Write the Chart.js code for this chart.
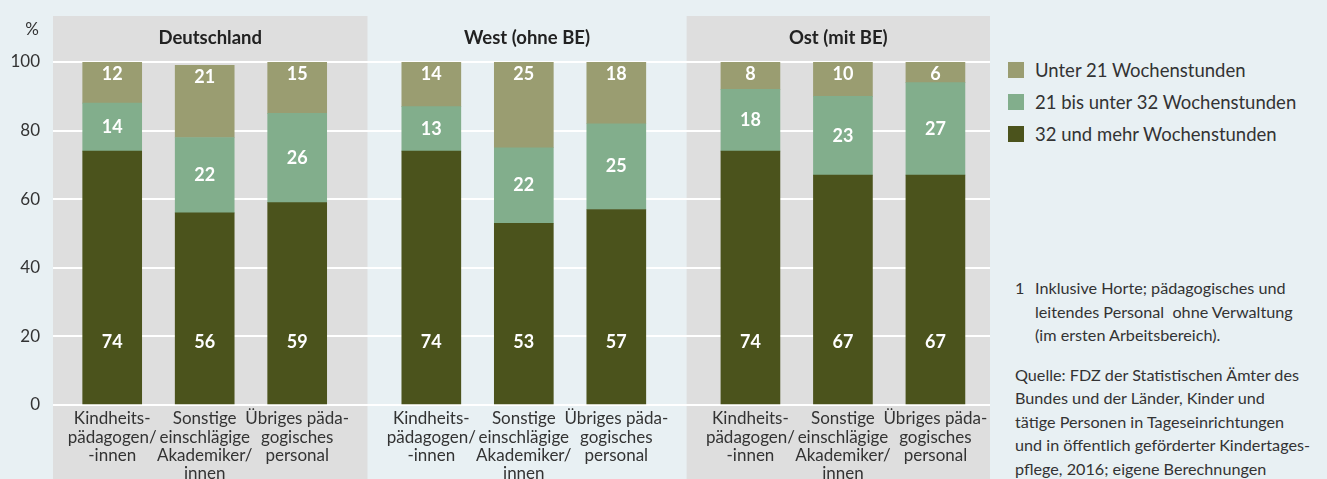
<!DOCTYPE html>
<html lang="de">
<head>
  <meta charset="UTF-8" />
  <title>Wochenstunden pädagogisches Personal</title>
  <script src="https://cdn.jsdelivr.net/npm/chart.js"></script>
  <style>
    html, body { margin: 0; padding: 0; }
    body { width: 1327px; height: 479px; background: #e8f0f3; font-family: Lato, "Noto Sans", sans-serif; color: #333; position: relative; overflow: hidden; }
    #chartBox { position: absolute; left: 0; top: 0; width: 1000px; height: 479px; }
    #legend { position: absolute; left: 1008px; top: 62px; }
    .item { display: flex; align-items: center; height: 16px; margin-bottom: 16px; font-size: 18.5px; white-space: nowrap; }
    .swatch { width: 16px; height: 16px; margin-right: 11px; flex: none; }
    #notes { position: absolute; left: 1015px; top: 276px; font-size: 16.2px; line-height: 23.5px; white-space: nowrap; }
    .foot { display: flex; }
    .foot .num { width: 20px; flex: none; }
    .source { margin-top: 16px; }
  </style>
</head>
<body>
  <div id="chartBox"><canvas id="chart"></canvas></div>
  <div id="legend"></div>
  <div id="notes">
    <div class="foot"><span class="num">1</span><span>Inklusive Horte; pädagogisches und<br>leitendes Personal &nbsp;ohne Verwaltung<br>(im ersten Arbeitsbereich).</span></div>
    <div class="source">Quelle: FDZ der Statistischen Ämter des<br>Bundes und der Länder, Kinder und<br>tätige Personen in Tageseinrichtungen<br>und in öffentlich geförderter Kindertages-<br>pflege, 2016; eigene Berechnungen</div>
  </div>
  <script>
    // data
    const groups = ['Deutschland', 'West (ohne BE)', 'Ost (mit BE)'];
    const categories = [
      ['Kindheits-', 'pädagogen/', '-innen'],
      ['Sonstige', 'einschlägige', 'Akademiker/', 'innen'],
      ['Übriges päda-', 'gogisches', 'personal']
    ];
    const seriesNames = ['32 und mehr Wochenstunden', '21 bis unter 32 Wochenstunden', 'Unter 21 Wochenstunden'];
    const hours32plus = [74, 56, 59, 74, 53, 57, 74, 67, 67];
    const hours21to32 = [14, 22, 26, 13, 22, 25, 18, 23, 27];
    const hoursUnder21 = [12, 21, 15, 14, 25, 18, 8, 10, 6];
    const yTicks = [0, 20, 40, 60, 80, 100];

    // styling
    const colors = ['#4b531c', '#82ae8c', '#9a9d71'];
    const panelGrey = '#dedede';
    const panelFill = [true, false, true];
    const GROUP_STEP = 3.45;
    const PANEL_EDGE = 2.76; // right edge of a panel, measured from its first bar
    const FONT = 'Lato, "Noto Sans", sans-serif';

    const xPos = [];
    groups.forEach((g, gi) => categories.forEach((c, ci) => xPos.push(gi * GROUP_STEP + ci)));
    const seriesValues = [hours32plus, hours21to32, hoursUnder21];

    const datasets = seriesValues.map((vals, si) => ({
      label: seriesNames[si],
      data: vals.map((v, i) => ({ x: xPos[i], y: v })),
      backgroundColor: colors[si],
      borderWidth: 0,
      barThickness: 59
    }));

    const panelPlugin = {
      id: 'panels',
      beforeDraw(chart) {
        const { ctx, chartArea, scales } = chart;
        const x = scales.x;
        ctx.save();
        groups.forEach((g, gi) => {
          const left = gi === 0 ? chartArea.left : x.getPixelForValue((gi - 1) * GROUP_STEP + PANEL_EDGE);
          const right = gi === groups.length - 1 ? chartArea.right : x.getPixelForValue(gi * GROUP_STEP + PANEL_EDGE);
          if (panelFill[gi]) {
            ctx.fillStyle = panelGrey;
            ctx.fillRect(left, 16, right - left, chart.height - 16);
          }
          ctx.fillStyle = '#222';
          ctx.font = 'bold 18.5px ' + FONT;
          ctx.textAlign = 'center';
          ctx.textBaseline = 'middle';
          ctx.fillText(g, (left + right) / 2, 38);
        });
        ctx.fillStyle = '#333';
        ctx.font = '17px ' + FONT;
        ctx.fillText('%', 32, 30);
        ctx.restore();
      }
    };

    const labelPlugin = {
      id: 'barLabels',
      afterDatasetsDraw(chart) {
        const { ctx, chartArea } = chart;
        ctx.save();
        ctx.fillStyle = '#fff';
        ctx.font = 'bold 18px ' + FONT;
        ctx.textAlign = 'center';
        ctx.textBaseline = 'middle';
        chart.data.datasets.forEach((ds, si) => {
          chart.getDatasetMeta(si).data.forEach((bar, i) => {
            const top = Math.max(bar.y, chartArea.top);
            let y;
            if (si === 0) y = bar.base - 62;
            else if (si === 2) y = top + 12;
            else y = (top + bar.base) / 2;
            ctx.fillText(String(seriesValues[si][i]), bar.x, y);
          });
        });
        ctx.restore();
      }
    };

    new Chart(document.getElementById('chart'), {
      type: 'bar',
      data: { datasets },
      options: {
        responsive: true,
        maintainAspectRatio: false,
        animation: false,
        layout: { padding: { top: 62, right: 10, left: 0, bottom: 0 } },
        plugins: { legend: { display: false }, tooltip: { enabled: false } },
        scales: {
          x: {
            type: 'linear',
            stacked: true,
            offset: false,
            min: -0.64,
            max: 2 * GROUP_STEP + 2.59,
            grid: { display: false, drawTicks: false, offset: false },
            border: { display: false },
            afterBuildTicks: scale => { scale.ticks = xPos.map(v => ({ value: v })); },
            afterFit: scale => { scale.height = 74; },
            ticks: {
              autoSkip: false,
              maxRotation: 0,
              padding: 5,
              color: '#333',
              font: { family: FONT, size: 17, lineHeight: 1.06 },
              callback: (v, i) => categories[i % categories.length]
            }
          },
          y: {
            stacked: true,
            min: 0,
            max: 100,
            grid: { color: '#ffffff', lineWidth: 2, drawTicks: false },
            border: { display: false },
            afterBuildTicks: scale => { scale.ticks = yTicks.map(v => ({ value: v })); },
            afterFit: scale => { scale.width = 53; },
            ticks: {
              padding: 13,
              color: '#333',
              font: { family: FONT, size: 17 }
            }
          }
        }
      },
      plugins: [panelPlugin, labelPlugin]
    });

    document.getElementById('legend').innerHTML = seriesNames.map((n, i) => ({ n, c: colors[i] })).reverse()
      .map(s => `<div class="item"><span class="swatch" style="background:${s.c}"></span>${s.n}</div>`).join('');
  </script>
</body>
</html>
